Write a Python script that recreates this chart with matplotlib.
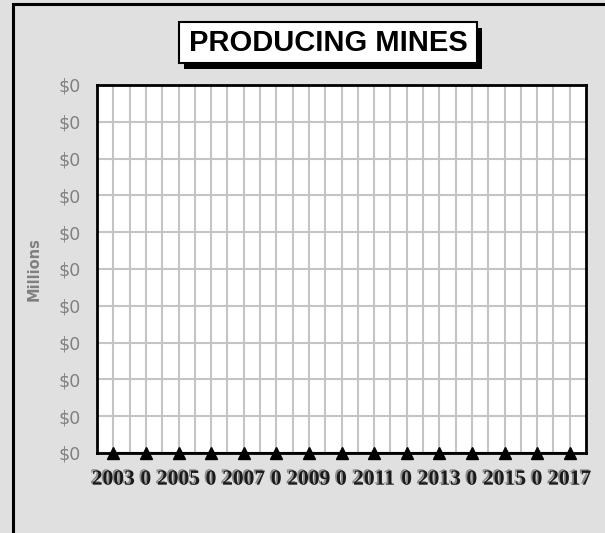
import matplotlib.pyplot as plt
import matplotlib.patheffects as pe
from matplotlib.patches import Rectangle
from matplotlib.ticker import FixedLocator, FuncFormatter

# category labels as they show on the x axis (every other year shows as 0)
years = ["2003", "0", "2005", "0", "2007", "0", "2009", "0",
         "2011", "0", "2013", "0", "2015", "0", "2017"]
# producing mines value, millions of dollars
values = [0, 0, 0, 0, 0, 0, 0, 0, 0, 0, 0, 0, 0, 0, 0]
y_ticks = [0, 0.1, 0.2, 0.3, 0.4, 0.5, 0.6, 0.7, 0.8, 0.9, 1.0]

fig = plt.figure(figsize=(6.05, 5.33), dpi=100)
fig.patch.set_facecolor("#e0e0e0")

# outer frame, only left and top edges are visible in the crop
fig.patches.append(Rectangle((12.5 / 605, -0.2), 1.5, 1.2 - 3.5 / 533,
                             transform=fig.transFigure, fill=False,
                             edgecolor="black", linewidth=2.2))

ax = fig.add_axes([97 / 605, 1 - 453 / 533, 489 / 605, (453 - 85) / 533])
ax.set_facecolor("white")

xs = list(range(len(years)))
ax.plot(xs, values, color="black", linewidth=1.5, marker="^",
        markersize=8.5, markerfacecolor="black", clip_on=False, zorder=5)

ax.set_xlim(-0.5, len(years) - 0.5)
ax.set_ylim(0, 1)
ax.xaxis.set_major_locator(FixedLocator(xs))
ax.xaxis.set_minor_locator(FixedLocator([x + 0.5 for x in xs[:-1]]))
ax.set_xticklabels(years)
ax.yaxis.set_major_locator(FixedLocator(y_ticks))
ax.yaxis.set_major_formatter(FuncFormatter(lambda v, p: "$0"))

ax.grid(True, which="both", color="#c4c4c4", linewidth=1.5)
ax.set_axisbelow(True)
for s in ax.spines.values():
    s.set_linewidth(2)
    s.set_color("black")

ax.tick_params(axis="y", length=0, pad=12, labelsize=12.5, labelcolor="#808080")
ax.tick_params(axis="x", which="both", length=0, pad=12)
for lbl in ax.get_xticklabels():
    lbl.set_fontfamily("Liberation Serif")
    lbl.set_fontweight("bold")
    lbl.set_fontsize(15.5)
    lbl.set_color("#1a1a1a")
    lbl.set_path_effects([pe.withSimplePatchShadow(offset=(-1.3, 0.9),
                                                   shadow_rgbFace="#777777",
                                                   alpha=0.8)])

ax.set_ylabel("Millions", fontsize=10.5, fontweight="bold", color="#808080",
              labelpad=12)

# title box with a drop shadow
fig.patches.append(Rectangle((184 / 605, 1 - 69 / 533), 298 / 605, 41 / 533,
                             transform=fig.transFigure, facecolor="black",
                             edgecolor="none", zorder=1))
fig.patches.append(Rectangle((179 / 605, 1 - 63 / 533), 298 / 605, 41 / 533,
                             transform=fig.transFigure, facecolor="white",
                             edgecolor="black", linewidth=1.5, zorder=2))
fig.text(328 / 605, 1 - 43 / 533, "PRODUCING MINES", ha="center", va="center",
         fontsize=21, fontweight="bold", family="Liberation Sans", zorder=3)

plt.savefig("out.png", dpi=100, facecolor=fig.get_facecolor())
